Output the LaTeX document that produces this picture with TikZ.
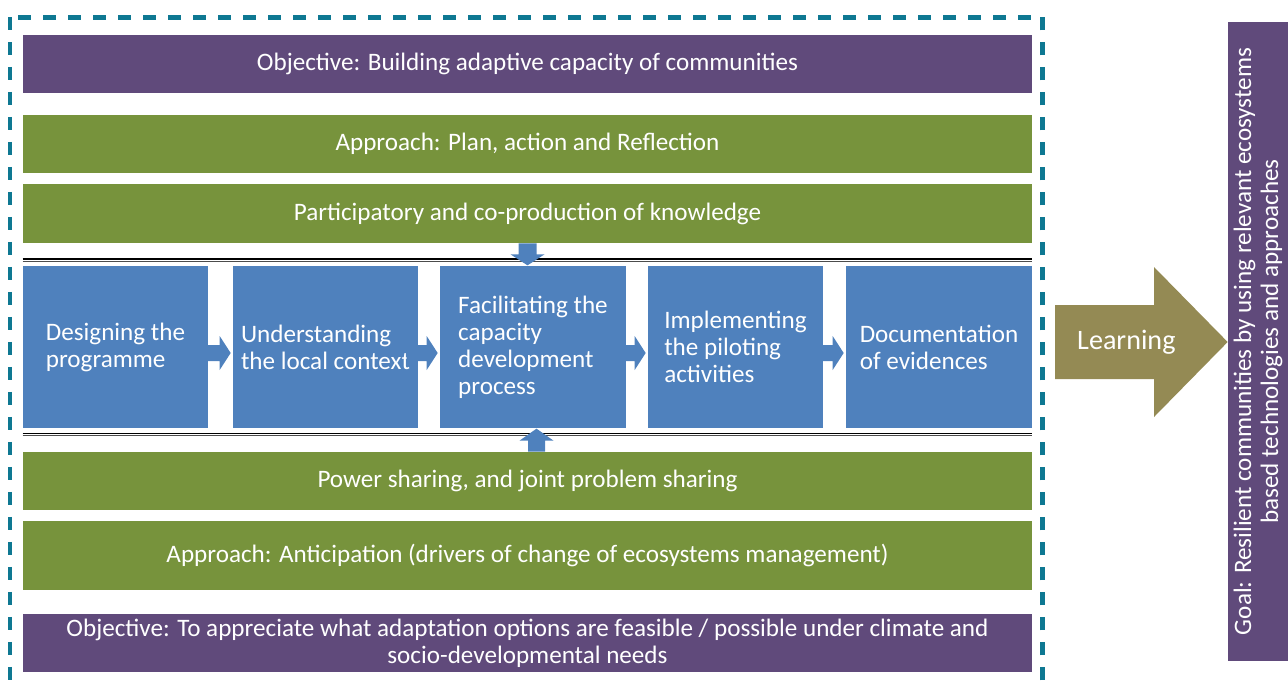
\documentclass[tikz,border=0pt]{standalone}
\usepackage{fontspec}
\setmainfont{Carlito}
\usetikzlibrary{calc}
\definecolor{objpurple}{RGB}{96,74,123}
\definecolor{appgreen}{RGB}{119,147,60}
\definecolor{stepblue}{RGB}{79,129,189}
\definecolor{learnolive}{RGB}{148,138,84}
\definecolor{frameteal}{RGB}{14,120,146}
\tikzset{
  boxfont/.style={font=\fontsize{14.3}{15.3}\selectfont},
  band/.style={fill=#1, text=white, minimum width=20.18cm, minimum height=1.16cm, inner sep=0pt, boxfont},
  stepbox/.style={fill=stepblue, text=white, minimum height=3.24cm, inner sep=0pt, align=left, boxfont},
  blockarrow/.style={fill=stepblue, draw=none},
}
\begin{document}
\begin{tikzpicture}[x=0.02cm,y=-0.02cm]
\useasboundingbox (0,0) rectangle (1288,684);
\clip (0,0) rectangle (1288,684);
% dashed frame round the process
\draw[frameteal, line width=0.1cm, dash pattern=on 0.26cm off 0.24cm] (10,17) rectangle (1042,720);

% upper bands
\node[band=objpurple] (obj1) at (527.5,64) {Objective: Building adaptive capacity of communities};
\node[band=appgreen] (plan) at (527.5,144) {Approach: Plan, action and Reflection};
\node[band=appgreen, minimum height=1.18cm] (part) at (527.5,213.5) {Participatory and co-production of knowledge};

% process steps
\node[stepbox, minimum width=3.7cm] (s1) at (115.5,347) {Designing the\\programme};
\node[stepbox, minimum width=3.7cm] (s2) at (325.5,347) {Understanding\\the local context};
\node[stepbox, minimum width=3.72cm] (s3) at (533,347) {Facilitating the\\capacity\\development\\process};
\node[stepbox, minimum width=3.5cm] (s4) at (735.5,347) {Implementing\\the piloting\\activities};
\node[stepbox, minimum width=3.72cm] (s5) at (939,347) {Documentation\\of evidences};

% lower bands
\node[band=appgreen] (power) at (527.5,481) {Power sharing, and joint problem sharing};
\node[band=appgreen, minimum height=1.38cm] (antic) at (527.5,555.5) {Approach: Anticipation (drivers of change of ecosystems management)};
\node[band=objpurple, align=center] (obj2) at (527.5,643) {Objective: To appreciate what adaptation options are feasible / possible under climate and\\socio-developmental needs};

% rules above and below the steps
\draw[line width=0.8pt] ($(s1.north west)+(0,-6.5)$) -- ($(s5.north east)+(0,-6.5)$);
\draw[line width=0.4pt, black!70] ($(s1.north west)+(0,-4)$) -- ($(s5.north east)+(0,-4)$);
\draw[line width=0.8pt] ($(s1.south west)+(0,5)$) -- ($(s5.south east)+(0,5)$);
\draw[line width=0.4pt, black!70] ($(s1.south west)+(0,7.5)$) -- ($(s5.south east)+(0,7.5)$);

% block arrows
\fill[blockarrow, shift={(part.south)}] (-9,0) -- (9,0) -- (9,11) -- (17,11) -- (0,22) -- (-17,11) -- (-9,11) -- cycle;
\fill[blockarrow, shift={($(power.north)+(9,0)$)}] (-8.5,0) -- (8.5,0) -- (8.5,-11) -- (17,-11) -- (0,-23) -- (-17,-11) -- (-8.5,-11) -- cycle;
\foreach \a/\b in {s1/s2,s2/s3,s3/s4,s4/s5}
  \fill[blockarrow, shift={($(\b.west)+(-2,6)$)}] (-11,-17) -- (0,0) -- (-11,17) -- (-11,8) -- (-31,8) -- (-31,-8) -- (-11,-8) -- cycle;

% goal and learning
\node[fill=objpurple, text=white, rotate=90, minimum width=12.78cm, minimum height=1.2cm, inner sep=0pt, align=center, boxfont] (goal) at (1258,341.5) {Goal: Resilient communities by using relevant ecosystems\\based technologies and approaches};
\fill[learnolive] (1055,305) -- (1154,305) -- (1154,267) -- (goal.north |- 0,342) -- (1154,417) -- (1154,379) -- (1055,379) -- cycle;
\node[text=white, anchor=west, font=\fontsize{16}{18}\selectfont] (learn) at (1071,342) {Learning};
\end{tikzpicture}
\end{document}
